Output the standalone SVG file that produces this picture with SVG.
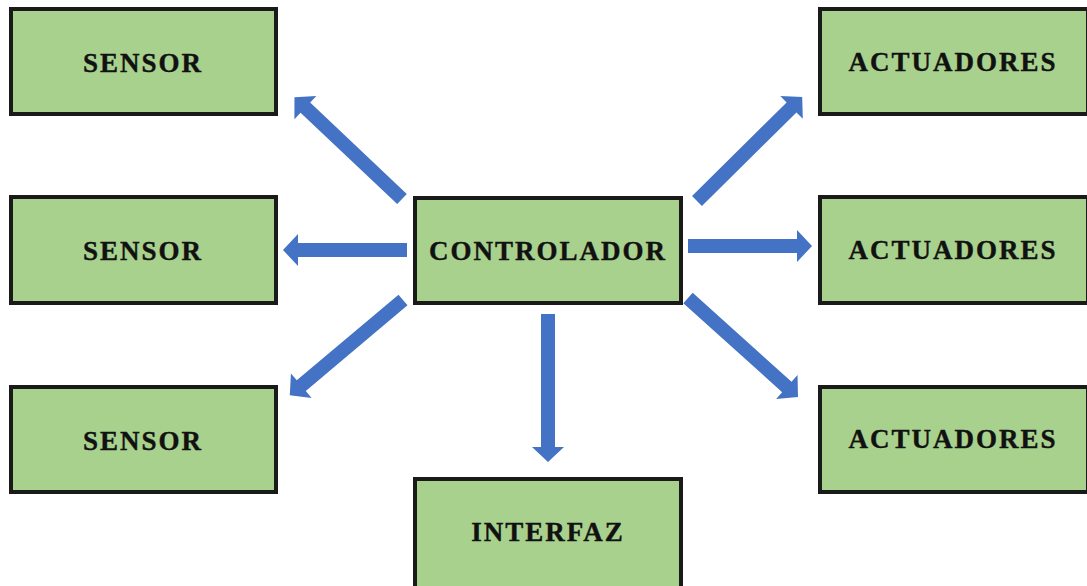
<svg xmlns="http://www.w3.org/2000/svg" width="1087" height="586" viewBox="0 0 1087 586">
  <style>
    .box { fill: #A9D18E; stroke: #1a1a1a; stroke-width: 4; }
    .lbl { font-family: "Liberation Serif", "Times New Roman", serif; font-weight: bold; font-size: 27px; letter-spacing: 2px; fill: #111; stroke: #111; stroke-width: 0.4; text-anchor: middle; }
    .arr { fill: #4472C4; }
  </style>
  <defs>
    <polygon id="a124" points="0,-7 109,-7 109,-16 124,0 109,16 109,7 0,7"/>
    <polygon id="a148" points="0,-7 133,-7 133,-16 148,0 133,16 133,7 0,7"/>
  </defs>
  <rect width="1087" height="586" fill="#ffffff"/>
  <g id="sensor1"><rect class="box" x="11" y="9" width="265" height="105"/><text class="lbl" x="143" y="72">SENSOR</text></g>
  <g id="sensor2"><rect class="box" x="11" y="197" width="265" height="106"/><text class="lbl" x="143" y="260">SENSOR</text></g>
  <g id="sensor3"><rect class="box" x="11" y="387" width="265" height="105"/><text class="lbl" x="143" y="450">SENSOR</text></g>
  <g id="controlador"><rect class="box" x="415" y="198" width="266" height="105"/><text class="lbl" x="548" y="260">CONTROLADOR</text></g>
  <g id="interfaz"><rect class="box" x="415" y="479" width="266" height="110"/><text class="lbl" x="548" y="541">INTERFAZ</text></g>
  <g id="actuadores1"><rect class="box" x="820" y="9" width="268" height="105"/><text class="lbl" x="953" y="71">ACTUADORES</text></g>
  <g id="actuadores2"><rect class="box" x="820" y="197" width="268" height="106"/><text class="lbl" x="953" y="259">ACTUADORES</text></g>
  <g id="actuadores3"><rect class="box" x="820" y="387" width="268" height="105"/><text class="lbl" x="953" y="448">ACTUADORES</text></g>
  <g id="connectors" class="arr">
    <use href="#a148" transform="translate(402,199) rotate(-136.6)"/>
    <use href="#a124" transform="translate(407,250) rotate(180)"/>
    <use href="#a148" transform="translate(403,300) rotate(139.9)"/>
    <use href="#a148" transform="translate(548,314) rotate(90)"/>
    <use href="#a148" transform="translate(697,201) rotate(-44.7)"/>
    <use href="#a124" transform="translate(688,246)"/>
    <use href="#a148" transform="translate(688,298) rotate(42)"/>
  </g>
</svg>
